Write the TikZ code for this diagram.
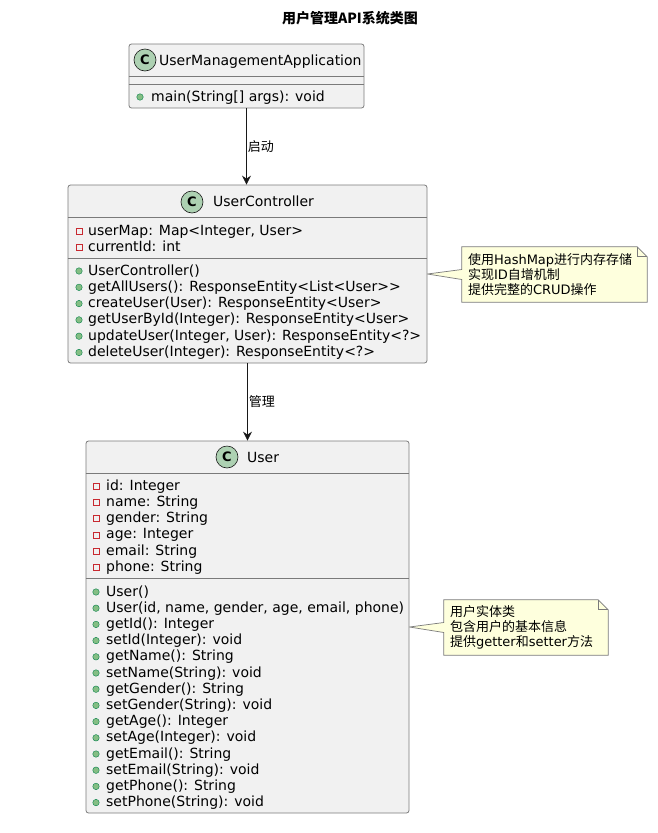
\documentclass[tikz,border=0pt]{standalone}
\usepackage{fontspec}
\setmainfont{DejaVu Sans}
\newfontfamily\cjk{Noto Sans CJK SC}
\usepackage{tikz}
\usetikzlibrary{arrows.meta, positioning, backgrounds}
\definecolor{umlBorda}{HTML}{181818}
\definecolor{umlCaixa}{HTML}{7A7A7A}
\definecolor{umlFundo}{HTML}{F1F1F1}
\definecolor{umlIcone}{HTML}{ADD1B2}
\definecolor{umlPrivado}{HTML}{C82930}
\definecolor{umlPublico}{HTML}{84BE84}
\definecolor{umlPublicoBorda}{HTML}{038048}
\definecolor{umlNota}{HTML}{FEFFDD}
\newcommand{\zh}[1]{{\cjk #1}}

\begin{document}
\begin{tikzpicture}[x=1pt, y=-1pt,
    classbox/.style={draw=umlCaixa, fill=umlFundo, line width=0.8pt, rounded corners=2.5pt, inner sep=0pt},
    classicon/.style={circle, draw=umlBorda, fill=umlIcone, line width=0.6pt, minimum size=22pt, inner sep=0pt, font=\bfseries\fontsize{13}{13}\selectfont},
    classname/.style={anchor=base west, inner sep=0pt, font=\fontsize{14}{16}\selectfont},
    member/.style={anchor=base west, inner sep=0pt, font=\fontsize{14}{16}\selectfont},
    privicon/.style={rectangle, draw=umlPrivado, line width=0.6pt, minimum size=6pt, inner sep=0pt},
    pubicon/.style={circle, draw=umlPublicoBorda, fill=umlPublico, line width=0.4pt, minimum size=6.5pt, inner sep=0pt},
    notebox/.style={inner xsep=6pt, inner ysep=0pt, align=left, font=\fontsize{13}{15}\selectfont},
    noteline/.style={draw=umlCaixa, fill=umlNota, line width=0.7pt},
    sepline/.style={draw=umlCaixa, line width=0.8pt},
    arrow/.style={draw=umlBorda, line width=0.8pt, -{Stealth[length=9pt, width=9pt, inset=3pt]}},
    edgelabel/.style={right, inner sep=1pt, font=\cjk\fontsize{13}{13}\selectfont}
]
    \useasboundingbox (0,0) rectangle (658,833);

    \node[font=\cjk\bfseries\fontsize{14}{14}\selectfont] (title) at (350,18) {用户管理API系统类图};

    % UserManagementApplication
    \node[classbox, minimum width=235pt, minimum height=64pt] (app) at (246.5,76) {};
    \node[classicon] (appc) at (145,60) {C};
    \node[classname] (appn) at (159,65) {UserManagementApplication};
    \draw[sepline] (app.west |- 0,76) -- (app.east |- 0,76);
    \draw[sepline] (app.west |- 0,84) -- (app.east |- 0,84);
    \node[pubicon] (appmi1) at (140,97) {};
    \node[member] (appm1) at (151,101) {main(String[] args): void};

    % UserController
    \node[classbox, minimum width=359pt, minimum height=178pt] (ctrl) at (247.5,274) {};
    \node[classicon] (ctrlc) at (192,202) {C};
    \node[classname] (ctrln) at (213,206) {UserController};
    \draw[sepline] (ctrl.west |- 0,217) -- (ctrl.east |- 0,217);
    \draw[sepline] (ctrl.west |- 0,258) -- (ctrl.east |- 0,258);
    \foreach \txt [count=\i] in {{userMap: Map<Integer, User>}, currentId: int} {
        \node[privicon] (ctrlai\i) at (79, 214.7+16.3*\i) {};
        \node[member] (ctrla\i) at (88, 218.7+16.3*\i) {\txt};
    }
    \foreach \txt [count=\i] in {UserController(), getAllUsers(): ResponseEntity<List<User>{}>,
        createUser(User): ResponseEntity<User>, getUserById(Integer): ResponseEntity<User>,
        {updateUser(Integer, User): ResponseEntity<?>}, deleteUser(Integer): ResponseEntity<?>} {
        \node[pubicon] (ctrlmi\i) at (79, 254.7+16.3*\i) {};
        \node[member] (ctrlm\i) at (88, 258.7+16.3*\i) {\txt};
    }

    % User
    \node[classbox, minimum width=323pt, minimum height=372pt] (user) at (247.5,627) {};
    \node[classicon] (userc) at (227,457) {C};
    \node[classname] (usern) at (247,462) {User};
    \draw[sepline] (user.west |- 0,473) -- (user.east |- 0,473);
    \draw[sepline] (user.west |- 0,578) -- (user.east |- 0,578);
    \foreach \txt [count=\i] in {id: Integer, name: String, gender: String, age: Integer, email: String, phone: String} {
        \node[privicon] (userai\i) at (96, 469.7+16.3*\i) {};
        \node[member] (usera\i) at (106, 473.7+16.3*\i) {\txt};
    }
    \foreach \txt [count=\i] in {User(), {User(id, name, gender, age, email, phone)}, getId(): Integer,
        setId(Integer): void, getName(): String, setName(String): void, getGender(): String,
        setGender(String): void, getAge(): Integer, setAge(Integer): void, getEmail(): String,
        setEmail(String): void, getPhone(): String, setPhone(String): void} {
        \node[pubicon] (usermi\i) at (96, 575.8+16.2*\i) {};
        \node[member] (userm\i) at (106, 579.8+16.2*\i) {\txt};
    }

    % notas
    \node[notebox, text width=173pt, minimum height=55pt] (n1) at (554.5,274.5)
        {\zh{使用}HashMap\zh{进行内存存储}\\\zh{实现}ID\zh{自增机制}\\\zh{提供完整的}CRUD\zh{操作}};
    \node[notebox, text width=152pt, minimum height=55pt] (n2) at (526,627.5)
        {\zh{用户实体类}\\\zh{包含用户的基本信息}\\\zh{提供}getter\zh{和}setter\zh{方法}};
    \begin{scope}[on background layer]
    \foreach \n/\c in {n1/ctrl, n2/user} {
        \draw[noteline] (\n.north west) -- ([xshift=-10pt]\n.north east) -- ([yshift=-10pt]\n.north east)
            -- (\n.south east) -- (\n.south west) -- ([yshift=-5pt]\n.west) -- (\c.east)
            -- ([yshift=5pt]\n.west) -- cycle;
        \draw[noteline, fill=none] ([xshift=-10pt]\n.north east) -- ([xshift=-10pt, yshift=-10pt]\n.north east)
            -- ([yshift=-10pt]\n.north east);
    }
    \end{scope}

    \draw[arrow] (app.south) -- (app.south |- ctrl.north) node[edgelabel, midway] (l1) {启动};
    \draw[arrow] (ctrl.south) -- (ctrl.south |- user.north) node[edgelabel, midway] (l2) {管理};
\end{tikzpicture}
\end{document}
